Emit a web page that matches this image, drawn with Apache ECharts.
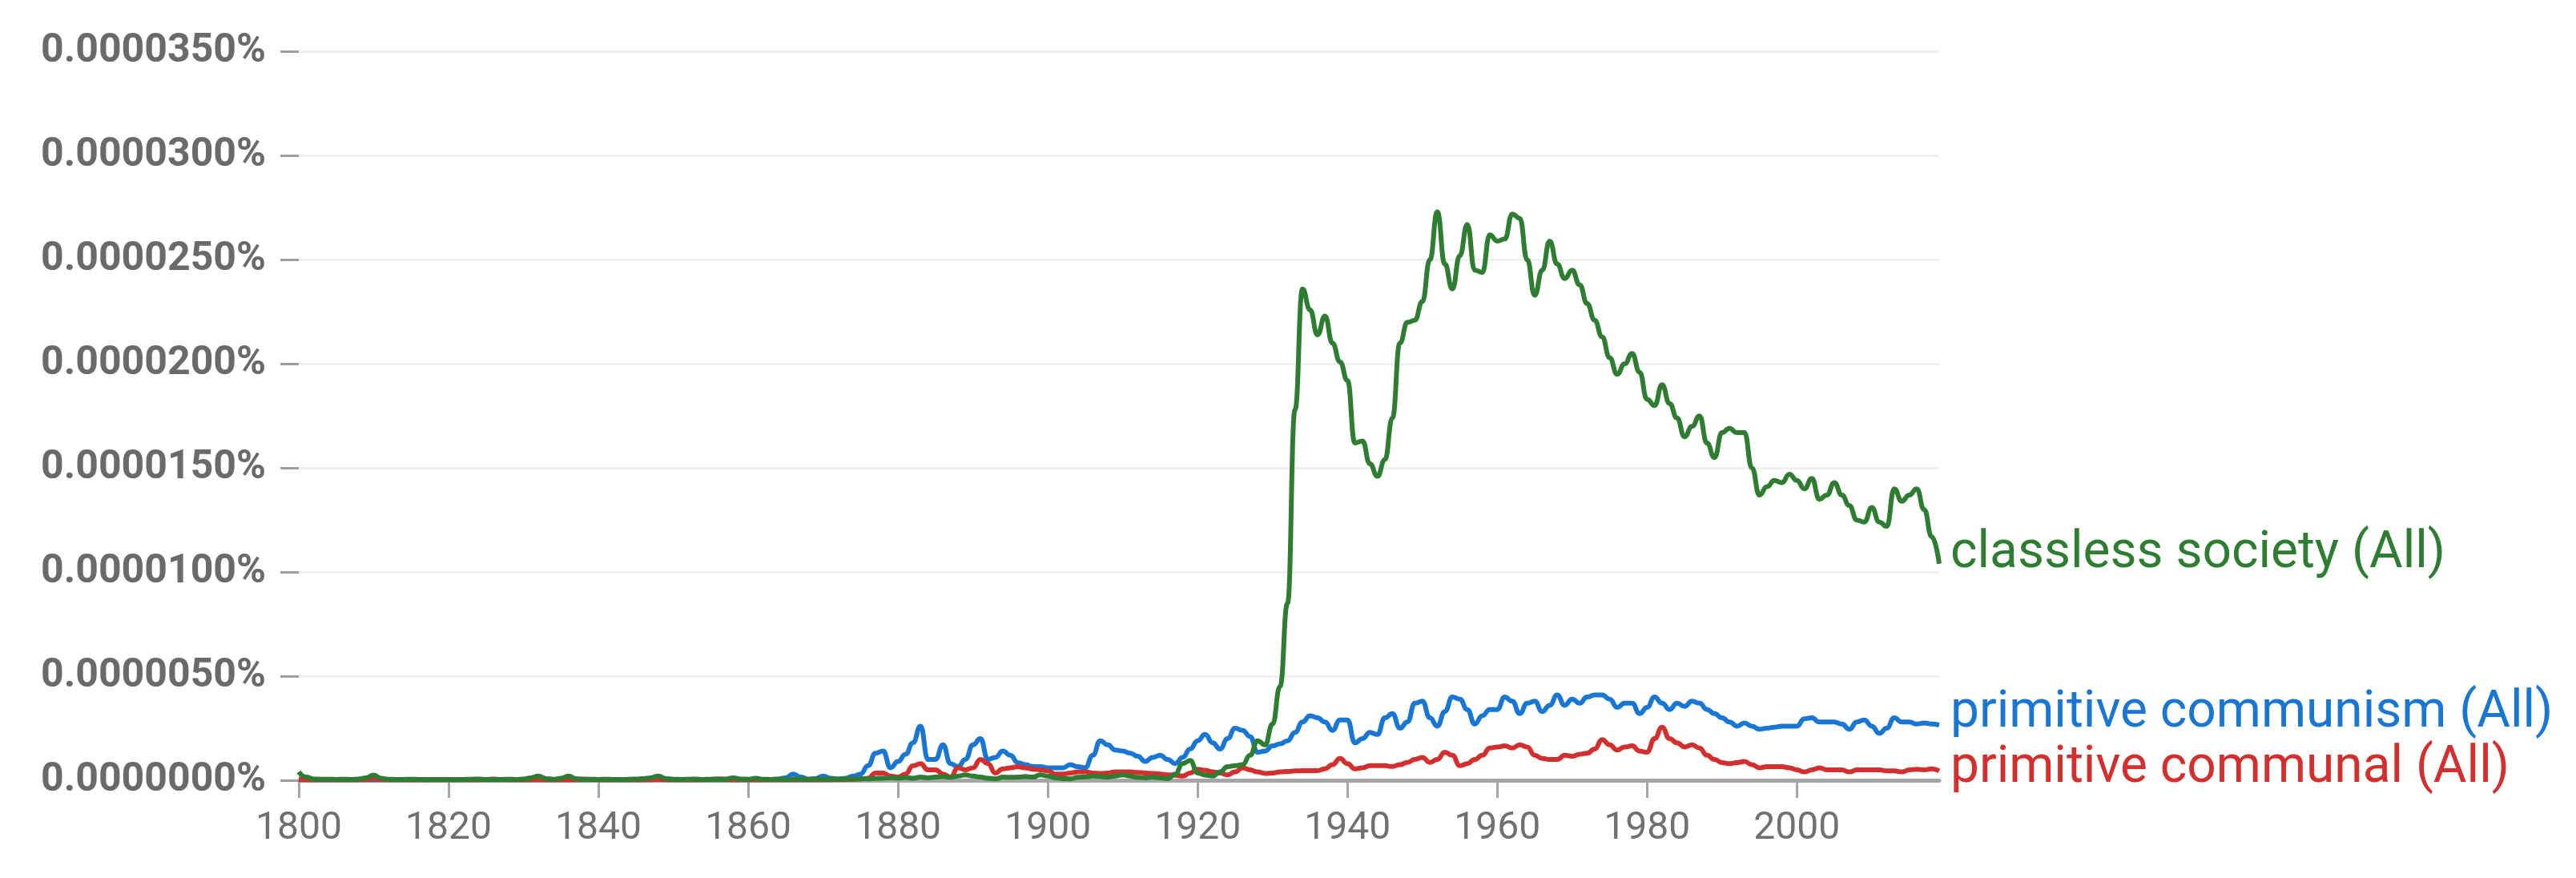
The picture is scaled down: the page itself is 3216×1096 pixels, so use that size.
<!DOCTYPE html>
<html>
<head>
<meta charset="utf-8">
<script src="https://cdn.jsdelivr.net/npm/echarts@6/dist/echarts.min.js"></script>
<style>
  html, body { margin: 0; padding: 0; background: #ffffff; }
  #chart { width: 3216px; height: 1096px; }
</style>
</head>
<body>
<div id="chart"></div>
<script>
// Years 1800..2019 ; values in units of 1e-7 % (label 0.0000350% = 350)
const firstYear = 1800;
const lastYear = 2019;
const xTickLabels = [1800, 1820, 1840, 1860, 1880, 1900, 1920, 1940, 1960, 1980, 2000];
const yTickLabels = [0, 50, 100, 150, 200, 250, 300, 350];

const seriesNames = ['primitive communism (All)', 'primitive communal (All)', 'classless society (All)'];

const primitiveCommunism = [
  // 1800-1809
  0.3, 0.3, 0.3, 0.3, 0.3, 0.3, 0.3, 0.3, 0.3, 0.3,
  // 1810-1819
  0.3, 0.3, 0.3, 0.3, 0.3, 0.3, 0.3, 0.3, 0.3, 0.3,
  // 1820-1829
  0.3, 0.3, 0.3, 0.3, 0.3, 0.3, 0.3, 0.3, 0.3, 0.3,
  // 1830-1839
  0.3, 0.3, 0.3, 0.3, 0.3, 0.3, 0.3, 0.3, 0.3, 0.3,
  // 1840-1849
  0.3, 0.3, 0.3, 0.3, 0.3, 0.3, 0.3, 0.4, 0.5, 0.4,
  // 1850-1859
  0.3, 0.3, 0.3, 0.3, 0.3, 0.3, 0.3, 0.3, 0.3, 0.3,
  // 1860-1869
  0.3, 0.3, 0.3, 0.4, 0.6, 1.2, 3.0, 1.5, 0.6, 0.8,
  // 1870-1879
  2.0, 1.0, 0.6, 1.0, 2.0, 3.0, 7.0, 13.0, 14.0, 6.0,
  // 1880-1889
  9.0, 12.5, 18.0, 26.0, 10.0, 10.0, 17.0, 8.0, 6.5, 10.0,
  // 1890-1899
  17.0, 20.0, 10.0, 11.0, 14.0, 12.0, 8.5, 7.5, 6.6, 6.5,
  // 1900-1909
  6.0, 6.0, 6.0, 7.5, 6.5, 6.0, 12.0, 19.0, 17.0, 14.5,
  // 1910-1919
  14.0, 13.0, 11.5, 9.0, 11.0, 12.0, 10.0, 8.0, 11.0, 15.0,
  // 1920-1929
  19.0, 22.0, 18.0, 15.0, 20.0, 25.0, 24.0, 21.0, 13.5, 14.0,
  // 1930-1939
  16.5, 17.5, 19.0, 23.0, 28.0, 31.0, 30.0, 28.0, 24.0, 29.0,
  // 1940-1949
  29.0, 18.0, 20.0, 23.0, 22.0, 30.0, 32.0, 25.0, 28.0, 37.0,
  // 1950-1959
  38.0, 30.0, 26.0, 33.0, 40.0, 39.0, 34.0, 27.0, 31.0, 34.0,
  // 1960-1969
  34.0, 40.0, 38.0, 32.0, 37.0, 38.0, 33.0, 36.0, 41.0, 36.0,
  // 1970-1979
  39.0, 37.0, 40.0, 41.0, 41.0, 39.0, 35.0, 37.0, 37.0, 32.0,
  // 1980-1989
  35.0, 40.0, 37.0, 34.0, 37.0, 35.5, 38.0, 37.0, 34.0, 32.0,
  // 1990-1999
  30.0, 28.0, 26.0, 27.5, 26.0, 24.5, 25.0, 25.5, 26.0, 26.0,
  // 2000-2009
  26.0, 29.5, 30.0, 28.0, 28.0, 28.0, 27.0, 24.5, 28.0, 29.0,
  // 2010-2019
  26.0, 22.5, 25.0, 30.0, 28.0, 28.0, 27.0, 27.5, 27.0, 26.5
];

const primitiveCommunal = [
  // 1800-1809
  0.6, 0.3, 0.3, 0.3, 0.3, 0.3, 0.3, 0.3, 0.3, 0.4,
  // 1810-1819
  0.8, 0.4, 0.3, 0.3, 0.3, 0.3, 0.3, 0.3, 0.3, 0.3,
  // 1820-1829
  0.3, 0.3, 0.3, 0.3, 0.3, 0.4, 0.6, 0.4, 0.3, 0.3,
  // 1830-1839
  0.3, 0.3, 0.4, 0.3, 0.3, 0.3, 0.3, 0.3, 0.6, 0.4,
  // 1840-1849
  0.3, 0.3, 0.3, 0.3, 0.3, 0.3, 0.3, 0.3, 0.4, 0.3,
  // 1850-1859
  0.3, 0.3, 0.3, 0.3, 0.3, 0.4, 0.7, 0.4, 0.3, 0.3,
  // 1860-1869
  0.3, 0.3, 0.3, 0.3, 0.3, 0.3, 0.3, 0.3, 0.3, 0.3,
  // 1870-1879
  0.3, 0.3, 0.4, 0.4, 0.5, 0.6, 1.0, 3.5, 3.5, 2.0,
  // 1880-1889
  1.5, 3.0, 7.0, 8.0, 5.0, 5.0, 3.0, 1.5, 6.0, 5.0,
  // 1890-1899
  6.0, 10.0, 8.0, 3.5, 5.5, 6.0, 6.5, 6.0, 5.3, 5.0,
  // 1900-1909
  4.5, 3.0, 3.0, 3.5, 4.0, 4.0, 3.5, 3.3, 3.5, 4.0,
  // 1910-1919
  4.0, 4.0, 3.8, 3.5, 3.3, 3.0, 2.6, 2.4, 2.0, 3.5,
  // 1920-1929
  5.3, 4.8, 4.0, 3.5, 2.6, 4.0, 6.0, 5.0, 4.0, 3.3,
  // 1930-1939
  3.5, 4.0, 4.2, 4.5, 4.6, 4.6, 4.6, 5.5, 7.5, 10.5,
  // 1940-1949
  8.0, 5.5, 6.0, 7.0, 7.0, 7.0, 6.6, 7.5, 8.6, 10.0,
  // 1950-1959
  11.0, 8.6, 10.0, 13.5, 12.0, 7.0, 8.0, 10.0, 12.0, 15.5,
  // 1960-1969
  16.0, 16.5, 15.5, 17.0, 16.0, 12.0, 10.5, 10.0, 10.0, 12.0,
  // 1970-1979
  11.5, 12.5, 13.0, 15.0, 19.5, 17.0, 14.5, 16.0, 16.5, 14.0,
  // 1980-1989
  13.5, 20.0, 25.5, 20.0, 18.0, 16.0, 17.0, 15.5, 12.0, 10.0,
  // 1990-1999
  8.5, 8.0, 8.5, 9.0, 7.5, 6.0, 6.5, 6.5, 6.5, 6.0,
  // 2000-2009
  5.0, 4.0, 5.0, 6.0, 5.0, 5.0, 5.0, 4.0, 5.0, 5.0,
  // 2010-2019
  5.0, 5.0, 4.5, 4.5, 4.0, 5.0, 5.3, 5.0, 5.5, 4.5
];

const classlessSociety = [
  // 1800-1809
  4.0, 1.5, 0.6, 0.5, 0.5, 0.4, 0.5, 0.4, 0.6, 1.2,
  // 1810-1819
  2.5, 1.0, 0.5, 0.4, 0.4, 0.5, 0.4, 0.3, 0.4, 0.4,
  // 1820-1829
  0.4, 0.3, 0.4, 0.5, 0.6, 0.4, 0.3, 0.4, 0.5, 0.4,
  // 1830-1839
  0.6, 1.2, 2.0, 0.8, 0.5, 1.0, 2.0, 0.8, 0.4, 0.5,
  // 1840-1849
  0.4, 0.5, 0.4, 0.3, 0.5, 0.6, 0.8, 1.2, 2.0, 0.8,
  // 1850-1859
  0.5, 0.4, 0.5, 0.6, 0.4, 0.5, 0.4, 0.6, 1.2, 0.6,
  // 1860-1869
  0.5, 1.0, 0.5, 0.4, 0.5, 0.4, 0.6, 0.5, 0.4, 0.6,
  // 1870-1879
  0.5, 0.6, 0.5, 0.7, 0.6, 0.8, 0.7, 0.9, 1.0, 1.2,
  // 1880-1889
  1.0, 1.3, 1.0, 1.5, 1.2, 1.5, 1.8, 1.4, 2.0, 2.6,
  // 1890-1899
  2.0, 1.5, 1.0, 0.7, 1.5, 1.4, 1.5, 1.8, 1.5, 2.6,
  // 1900-1909
  2.0, 1.2, 0.8, 0.7, 1.4, 1.6, 2.0, 1.8, 1.5, 2.0,
  // 1910-1919
  2.6, 2.0, 1.4, 1.2, 1.5, 1.2, 0.8, 3.0, 8.0, 9.5,
  // 1920-1929
  3.5, 2.5, 2.0, 4.0, 6.5, 7.0, 7.5, 12.0, 19.0, 17.0,
  // 1930-1939
  27.0, 45.0, 85.0, 178.0, 236.0, 226.0, 214.0, 223.0, 210.0, 201.0,
  // 1940-1949
  192.0, 162.0, 163.0, 152.0, 146.0, 154.0, 174.0, 210.0, 220.0, 221.0,
  // 1950-1959
  230.0, 250.0, 273.0, 248.0, 236.0, 252.0, 267.0, 245.0, 244.0, 262.0,
  // 1960-1969
  259.0, 260.0, 272.0, 270.0, 250.0, 233.0, 245.0, 259.0, 248.0, 241.0,
  // 1970-1979
  245.0, 238.0, 229.0, 221.0, 213.0, 203.0, 195.0, 200.0, 205.0, 196.0,
  // 1980-1989
  183.0, 180.0, 190.0, 181.0, 174.0, 165.0, 170.0, 175.0, 162.0, 155.0,
  // 1990-1999
  167.0, 169.0, 167.0, 167.0, 150.0, 137.0, 141.0, 144.0, 143.0, 147.0,
  // 2000-2009
  144.0, 140.0, 145.0, 135.0, 137.0, 143.0, 137.0, 132.0, 125.0, 124.0,
  // 2010-2019
  131.0, 124.0, 122.0, 140.0, 134.0, 137.0, 140.0, 130.0, 117.0, 104.0
];

const seriesColors = ['#1976d2', '#d32f2f', '#2e7d32'];
const seriesValues = [primitiveCommunism, primitiveCommunal, classlessSociety];
const labelOffsets = [[0, -14], [0, -2], [0, -12]];

function pairs(values) {
  return values.map((v, i) => [firstYear + i, v]);
}

const chart = echarts.init(document.getElementById('chart'), null, { renderer: 'canvas' });

const option = {
  backgroundColor: '#ffffff',
  animation: false,
  grid: { left: 373, right: 795, top: 64.5, bottom: 122, containLabel: false },
  xAxis: {
    type: 'value',
    min: firstYear,
    max: lastYear,
    axisLine: { show: true, lineStyle: { color: '#a6a6a6', width: 5 } },
    axisTick: { show: true, customValues: xTickLabels, length: 22, lineStyle: { color: '#a6a6a6', width: 3 } },
    axisLabel: {
      customValues: xTickLabels,
      formatter: v => String(v),
      color: '#707070',
      fontFamily: 'Roboto',
      fontSize: 48,
      margin: 37
    },
    splitLine: { show: false }
  },
  yAxis: {
    type: 'value',
    min: yTickLabels[0],
    max: yTickLabels[yTickLabels.length - 1],
    interval: 50,
    axisLine: { show: false },
    axisTick: { show: true, length: 23, lineStyle: { color: '#9e9e9e', width: 3 } },
    axisLabel: {
      formatter: v => (v * 1e-7).toFixed(7) + '%',
      color: '#6a6a6a',
      fontFamily: 'Roboto',
      fontWeight: 'bold',
      fontSize: 50,
      margin: 41
    },
    splitLine: { show: true, lineStyle: { color: '#f0f0f0', width: 3 } }
  },
  series: seriesValues.map((vals, i) => ({
    name: seriesNames[i],
    type: 'line',
    data: pairs(vals),
    showSymbol: false,
    symbol: 'none',
    smooth: 0.5,
    smoothMonotone: 'x',
    z: 2 + i,
    lineStyle: { color: seriesColors[i], width: 6 },
    itemStyle: { color: seriesColors[i] },
    endLabel: {
      show: true,
      formatter: seriesNames[i],
      color: seriesColors[i],
      fontFamily: 'Roboto',
      fontSize: 64,
      distance: 14,
      offset: labelOffsets[i]
    }
  }))
};

chart.setOption(option);
</script>
</body>
</html>
